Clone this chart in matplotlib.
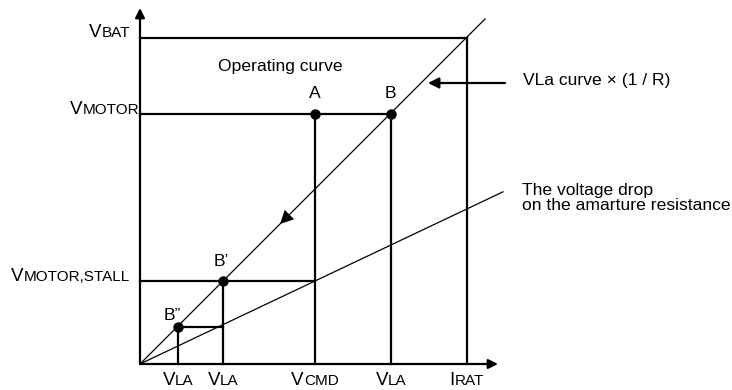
import matplotlib.pyplot as plt

plt.rcParams['font.family'] = ['Liberation Sans', 'DejaVu Sans']

# current positions on the I axis (arbitrary units, origin = 0)
i_la2 = 38      # B'' current
i_la1 = 83      # B' current
i_cmd = 175
i_la = 251      # B current
i_rat = 327
i_axis_end = 358

# voltage levels
v_b2 = 37
v_stall = 83
v_motor = 250
v_bat = 326
v_axis_end = 356

# line ends
i_curve_end = 345       # VLa curve x (1/R), slope 1
i_drop_end = 363        # armature drop line
drop_slope = v_stall / i_cmd

points = {"A": (i_cmd, v_motor), "B": (i_la, v_motor),
          "B'": (i_la1, v_stall), "B''": (i_la2, v_b2)}

fig = plt.figure(figsize=(7.32, 3.90), dpi=100)
ax = fig.add_axes([0, 0, 1, 1])
ax.set_xlim(-140, 592)
ax.set_ylim(-26, 364)
ax.axis('off')

thick = 1.6
thin = 0.9
k = 'black'

# axes with arrows
arr = dict(arrowstyle='-|>', lw=thick, color=k, mutation_scale=14, shrinkA=0, shrinkB=0)
ax.annotate('', xy=(0, v_axis_end), xytext=(0, 0), arrowprops=arr)
ax.annotate('', xy=(i_axis_end, 0), xytext=(0, 0), arrowprops=arr)

# rectangle / construction lines
ax.plot([0, i_rat], [v_bat, v_bat], color=k, lw=thick)
ax.plot([i_rat, i_rat], [0, v_bat], color=k, lw=thick)
ax.plot([0, i_la], [v_motor, v_motor], color=k, lw=thick)
ax.plot([i_cmd, i_cmd], [0, v_motor], color=k, lw=thick)
ax.plot([i_la, i_la], [0, v_motor], color=k, lw=thick)
ax.plot([0, i_cmd], [v_stall, v_stall], color=k, lw=thick)
ax.plot([i_la1, i_la1], [0, v_stall], color=k, lw=thick)
ax.plot([i_la2, i_la2], [0, v_b2], color=k, lw=thick)
ax.plot([i_la2, i_la1], [v_b2, v_b2], color=k, lw=thick)

# diagonal curves
ax.plot([0, i_curve_end], [0, i_curve_end], color=k, lw=thin)
ax.plot([0, i_drop_end], [0, i_drop_end * drop_slope], color=k, lw=thin)

# direction arrow on the VLa curve
ax.annotate('', xy=(140, 140), xytext=(160, 160),
            arrowprops=dict(arrowstyle='-|>', lw=0, color=k, mutation_scale=24,
                            shrinkA=0, shrinkB=0))

# pointer arrow to the VLa curve label
ax.annotate('', xy=(288, 281), xytext=(365, 281),
            arrowprops=dict(arrowstyle='-|>', lw=thick, color=k, mutation_scale=16,
                            shrinkA=0, shrinkB=0))

# points
for name, (px, py) in points.items():
    ax.plot(px, py, 'o', color=k, ms=6.5)

fs = 12.6
ax.text(175, 271, "A", ha='center', va='center', fontsize=fs)
ax.text(250, 271, "B", ha='center', va='center', fontsize=fs)
ax.text(81, 102, "B\u2019", ha='center', va='center', fontsize=fs)
ax.text(32, 49, "B\u201d", ha='center', va='center', fontsize=fs)
ax.text(140, 297, "Operating curve", ha='center', va='center', fontsize=fs)
ax.text(383, 283, "VLa curve \u00d7 (1 / R)", ha='left', va='center', fontsize=fs)
ax.text(382, 166, "The voltage drop\non the amarture resistance", ha='left',
        va='center', fontsize=fs, linespacing=1.0)

# labels with a large first letter and smaller rest
fig.canvas.draw()
renderer = fig.canvas.get_renderer()


def label(x, y, big, small, align):
    t1 = ax.text(x, y, big, fontsize=13.5, ha='left', va='baseline')
    t2 = ax.text(x, y, small, fontsize=11, ha='left', va='baseline')
    w1 = t1.get_window_extent(renderer).width
    w2 = t2.get_window_extent(renderer).width
    inv = ax.transData.inverted()
    x0 = ax.transData.transform((x, y))[0]
    if align == 'right':
        start = x0 - w1 - w2
    else:
        start = x0 - (w1 + w2) / 2
    t1.set_x(inv.transform((start, 0))[0])
    t2.set_x(inv.transform((start + w1, 0))[0])


label(-10, v_bat + 1, "V", "BAT", 'right')
label(-1, v_motor, "V", "MOTOR", 'right')
label(-10, v_stall, "V", "MOTOR,STALL", 'right')

base = -21
label(i_la2, base, "V", "LA", 'center')
label(i_la1, base, "V", "LA", 'center')
label(i_cmd, base, "V", "CMD", 'center')
label(i_la, base, "V", "LA", 'center')
label(i_rat, base, "I", "RAT", 'center')

fig.savefig("out.png", dpi=100)
